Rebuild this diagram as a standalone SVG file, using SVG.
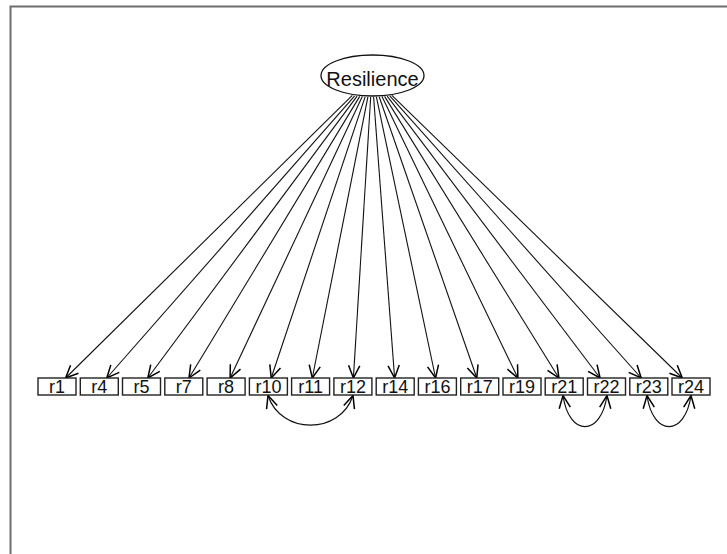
<svg xmlns="http://www.w3.org/2000/svg" width="727" height="554" viewBox="0 0 727 554">
<defs>
<marker id="ah" markerUnits="userSpaceOnUse" markerWidth="20" markerHeight="20" viewBox="-12 -8 14 16" refX="0" refY="0" orient="auto-start-reverse" overflow="visible">
<path d="M-10,-4.5 L0,0 L-10,4.5" fill="none" stroke="#000" stroke-width="1.2"/>
</marker>
<style>
.box{fill:#fff;stroke:#222;stroke-width:1.4}
.lbl{font-family:"Liberation Sans",Arial,sans-serif;font-size:18px;text-anchor:middle;fill:#111}
.e{fill:none;stroke:#111;stroke-width:1.1;marker-end:url(#ah)}
.c{fill:none;stroke:#111;stroke-width:1.2;marker-start:url(#ah);marker-end:url(#ah)}
</style>
</defs>
<rect width="727" height="554" fill="#fff"/>
<path d="M10.5,560 L10.5,6.5 L740,6.5" fill="none" stroke="#6e6e6e" stroke-width="2"/>
<g id="connectors">
<line class="e" x1="352.3" y1="95.4" x2="65.6" y2="378"/>
<line class="e" x1="354.7" y1="95.8" x2="106.8" y2="378"/>
<line class="e" x1="357.1" y1="96.1" x2="147.8" y2="378"/>
<line class="e" x1="359.7" y1="96.4" x2="189.0" y2="378"/>
<line class="e" x1="362.3" y1="96.6" x2="230.1" y2="378"/>
<line class="e" x1="365.1" y1="96.8" x2="271.2" y2="378"/>
<line class="e" x1="367.9" y1="96.9" x2="312.3" y2="378"/>
<line class="e" x1="370.7" y1="97.0" x2="353.4" y2="378"/>
<line class="e" x1="373.6" y1="97.0" x2="394.6" y2="378"/>
<line class="e" x1="376.4" y1="96.9" x2="435.6" y2="378"/>
<line class="e" x1="379.2" y1="96.8" x2="476.8" y2="378"/>
<line class="e" x1="382.0" y1="96.6" x2="517.9" y2="378"/>
<line class="e" x1="384.6" y1="96.4" x2="558.9" y2="378"/>
<line class="e" x1="387.2" y1="96.1" x2="600.1" y2="378"/>
<line class="e" x1="389.6" y1="95.7" x2="641.2" y2="378"/>
<line class="e" x1="391.9" y1="95.3" x2="682.3" y2="378"/>
<path class="c" d="M268,395.5 C281,435 340,435 353,395.5"/>
<path class="c" d="M563,395.5 C569,437 601,437 607,395.5"/>
<path class="c" d="M647,395.5 C653,437 685,437 691,395.5"/>
</g>
<g id="Resilience">
<ellipse cx="372.5" cy="75.5" rx="51.5" ry="20.5" fill="#fff" stroke="#111" stroke-width="1.3"/>
<text x="372.5" y="86" style="font-family:'Liberation Sans',Arial,sans-serif;font-size:20px;text-anchor:middle;fill:#111">Resilience</text>
</g>
<g id="r1"><rect class="box" x="38" y="378" width="38" height="17"/><text class="lbl" x="57" y="393">r1</text></g>
<g id="r4"><rect class="box" x="80.3" y="378" width="38" height="17"/><text class="lbl" x="99.3" y="393">r4</text></g>
<g id="r5"><rect class="box" x="122.5" y="378" width="38" height="17"/><text class="lbl" x="141.5" y="393">r5</text></g>
<g id="r7"><rect class="box" x="164.8" y="378" width="38" height="17"/><text class="lbl" x="183.8" y="393">r7</text></g>
<g id="r8"><rect class="box" x="207.1" y="378" width="38" height="17"/><text class="lbl" x="226.1" y="393">r8</text></g>
<g id="r10"><rect class="box" x="249.4" y="378" width="38" height="17"/><text class="lbl" x="268.4" y="393">r10</text></g>
<g id="r11"><rect class="box" x="291.6" y="378" width="38" height="17"/><text class="lbl" x="310.6" y="393">r11</text></g>
<g id="r12"><rect class="box" x="333.9" y="378" width="38" height="17"/><text class="lbl" x="352.9" y="393">r12</text></g>
<g id="r14"><rect class="box" x="376.2" y="378" width="38" height="17"/><text class="lbl" x="395.2" y="393">r14</text></g>
<g id="r16"><rect class="box" x="418.4" y="378" width="38" height="17"/><text class="lbl" x="437.4" y="393">r16</text></g>
<g id="r17"><rect class="box" x="460.7" y="378" width="38" height="17"/><text class="lbl" x="479.7" y="393">r17</text></g>
<g id="r19"><rect class="box" x="503" y="378" width="38" height="17"/><text class="lbl" x="522" y="393">r19</text></g>
<g id="r21"><rect class="box" x="545.2" y="378" width="38" height="17"/><text class="lbl" x="564.2" y="393">r21</text></g>
<g id="r22"><rect class="box" x="587.5" y="378" width="38" height="17"/><text class="lbl" x="606.5" y="393">r22</text></g>
<g id="r23"><rect class="box" x="629.8" y="378" width="38" height="17"/><text class="lbl" x="648.8" y="393">r23</text></g>
<g id="r24"><rect class="box" x="672" y="378" width="38" height="17"/><text class="lbl" x="691" y="393">r24</text></g>
</svg>
